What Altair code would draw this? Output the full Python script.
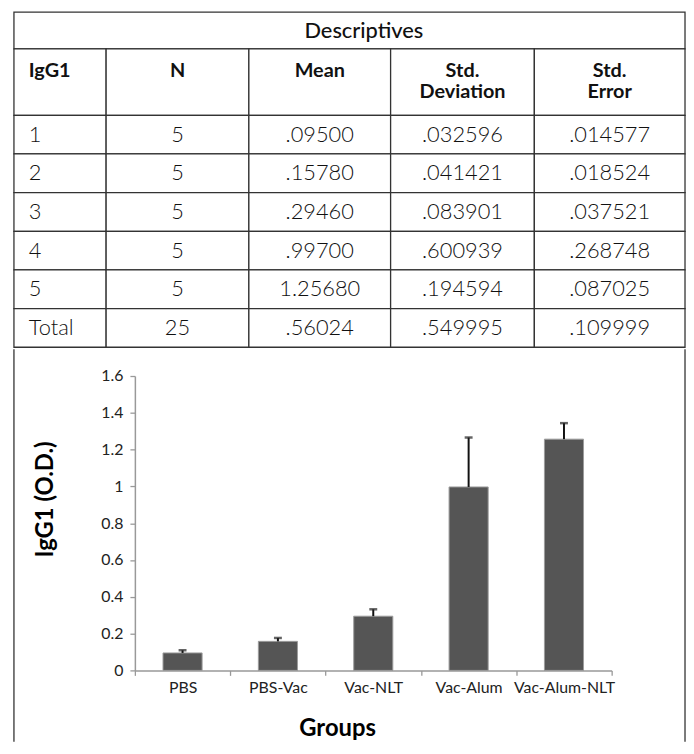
import altair as alt
import pandas as pd

# ---------------- table values ----------------
table_title = "Descriptives"
col_headers = ["IgG1", "N", "Mean", "Std.\nDeviation", "Std.\nError"]
row_labels = ["1", "2", "3", "4", "5", "Total"]
n_values = ["5", "5", "5", "5", "5", "25"]
mean_values = [".09500", ".15780", ".29460", ".99700", "1.25680", ".56024"]
sd_values = [".032596", ".041421", ".083901", ".600939", ".194594", ".549995"]
se_values = [".014577", ".018524", ".037521", ".268748", ".087025", ".109999"]

# ---------------- chart values ----------------
groups = ["PBS", "PBS-Vac", "Vac-NLT", "Vac-Alum", "Vac-Alum-NLT"]
group_means = [0.095, 0.1578, 0.2946, 0.997, 1.2568]
group_se = [0.014577, 0.018524, 0.037521, 0.268748, 0.087025]
y_ticks = [0, 0.2, 0.4, 0.6, 0.8, 1, 1.2, 1.4, 1.6]

# ---------------- layout (not data) ----------------
FONT = "Lato"
COL_W = [93, 144, 143, 145, 152]
TITLE_H = 37
HEAD_H = 67
ROW_H = 39
TABLE_W = sum(COL_W)
TABLE_H = TITLE_H + HEAD_H + ROW_H * len(row_labels)
PANEL_H = 396
PLOT_X0, PLOT_X1 = 122, 603
PLOT_Y0, PLOT_Y1 = 324, 27
LINE = "#333333"

edges = [0]
for w in COL_W:
    edges.append(edges[-1] + w)

columns = [row_labels, n_values, mean_values, sd_values, se_values]

cells = [dict(x0=0, x1=TABLE_W, y0=0, y1=TITLE_H)]
head_txt = []
body_txt = []
for c in range(len(col_headers)):
    cells.append(dict(x0=edges[c], x1=edges[c + 1], y0=TITLE_H, y1=TITLE_H + HEAD_H))
    xc = edges[c] + 15 if c == 0 else (edges[c] + edges[c + 1]) / 2
    head_txt.append(dict(x=xc, y=TITLE_H + 12, t=col_headers[c], left=c == 0))
    for r in range(len(row_labels)):
        y0 = TITLE_H + HEAD_H + r * ROW_H
        cells.append(dict(x0=edges[c], x1=edges[c + 1], y0=y0, y1=y0 + ROW_H))
        body_txt.append(dict(x=xc, y=y0 + ROW_H / 2, t=columns[c][r], left=c == 0))

cells_df = pd.DataFrame(cells)
head_df = pd.DataFrame(head_txt)
body_df = pd.DataFrame(body_txt)
title_df = pd.DataFrame([dict(x=353, y=TITLE_H / 2 + 1, t=table_title)])

xs = alt.Scale(domain=[0, TABLE_W], nice=False, zero=False)
ys = alt.Scale(domain=[0, TABLE_H], nice=False, zero=False, reverse=True)

grid = alt.Chart(cells_df).mark_rect(fill="white", stroke=LINE, strokeWidth=1.3).encode(
    x=alt.X("x0:Q", scale=xs, axis=None), x2="x1:Q",
    y=alt.Y("y0:Q", scale=ys, axis=None), y2="y1:Q")

title_txt = alt.Chart(title_df).mark_text(
    font=FONT, fontSize=22, fontWeight=500, color="#111", baseline="middle"
).encode(x=alt.X("x:Q", scale=xs, axis=None), y=alt.Y("y:Q", scale=ys, axis=None), text="t:N")

def txt_layer(df, left, size, **kw):
    return alt.Chart(df[df["left"] == left]).mark_text(
        font=FONT, fontSize=size, color="#111", align="left" if left else "center", **kw
    ).encode(x=alt.X("x:Q", scale=xs, axis=None), y=alt.Y("y:Q", scale=ys, axis=None), text="t:N")

head_l = txt_layer(head_df, True, 20, fontWeight="bold", baseline="top", lineBreak="\n", lineHeight=22)
head_c = txt_layer(head_df, False, 20, fontWeight="bold", baseline="top", lineBreak="\n", lineHeight=22)
body_l = txt_layer(body_df, True, 22, fontWeight=300, baseline="middle")
body_c = txt_layer(body_df, False, 22, fontWeight=300, baseline="middle")

table = alt.layer(grid, title_txt, head_l, head_c, body_l, body_c).properties(
    width=TABLE_W, height=TABLE_H)

# ---------------- bar chart panel ----------------
bar_df = pd.DataFrame({"group": groups, "mean": group_means, "se": group_se})
bar_df["top"] = bar_df["mean"] + bar_df["se"]

xband = alt.Scale(domain=groups, range=[PLOT_X0, PLOT_X1], paddingInner=0, paddingOuter=0)
yscale = alt.Scale(domain=[0, 1.6], range=[PLOT_Y0, PLOT_Y1], nice=False, zero=True)

x_axis = alt.Axis(
    orient="bottom", offset=-(PANEL_H - PLOT_Y0), title="Groups", titleX=326, titleY=59,
    titleBaseline="middle", titleAlign="center", titleFont=FONT, titleFontSize=24,
    titleFontWeight="bold", titleColor="#000", labelAngle=0, labelFont=FONT,
    labelFontSize=16, labelColor="#222", labelPadding=4, tickBand="extent", tickSize=5,
    tickColor="#999", domainColor="#999", domainWidth=1.5, tickWidth=1.3, grid=False)

y_axis = alt.Axis(
    orient="left", offset=-PLOT_X0, values=y_ticks, format="~g", title="IgG1 (O.D.)",
    titleX=-90, titleY=151, titleAngle=270, titleBaseline="middle", titleAlign="center",
    titleFont=FONT, titleFontSize=24, titleFontWeight="bold", titleColor="#000",
    labelFont=FONT, labelFontSize=16, labelColor="#222", labelPadding=7, tickSize=5,
    tickColor="#999", domainColor="#999", domainWidth=1.5, tickWidth=1.3, grid=False)

bars = alt.Chart(bar_df).mark_bar(
    width=alt.RelativeBandSize(0.41), fill="#555555", stroke="#9c9c9c", strokeWidth=1
).encode(
    x=alt.X("group:N", sort=groups, scale=xband, axis=x_axis),
    y=alt.Y("mean:Q", scale=yscale, axis=y_axis))

err = alt.Chart(bar_df).mark_rule(color="#111", strokeWidth=2).encode(
    x=alt.X("group:N", sort=groups, scale=xband), y=alt.Y("mean:Q", scale=yscale), y2="top:Q")

cap = alt.Chart(bar_df).mark_tick(color="#222", thickness=2.5, size=8).encode(
    x=alt.X("group:N", sort=groups, scale=xband), y=alt.Y("top:Q", scale=yscale))

border_df = pd.DataFrame({"side": ["l", "r"]})
left_border = alt.Chart(border_df.head(1)).mark_rule(color=LINE, strokeWidth=1.3).encode(
    x=alt.value(0), y=alt.value(0), y2=alt.value(PANEL_H))
right_border = alt.Chart(border_df.tail(1)).mark_rule(color=LINE, strokeWidth=1.3).encode(
    x=alt.value(TABLE_W), y=alt.value(0), y2=alt.value(PANEL_H))

panel = alt.layer(bars, err, cap, left_border, right_border).properties(
    width=TABLE_W, height=PANEL_H)

chart = alt.vconcat(table, panel, spacing=0).properties(
    padding={"left": 5, "top": 0, "right": 0, "bottom": 0}
).configure_view(strokeWidth=0)

chart.save("out.html", embed_options={"renderer": "svg", "actions": False})
